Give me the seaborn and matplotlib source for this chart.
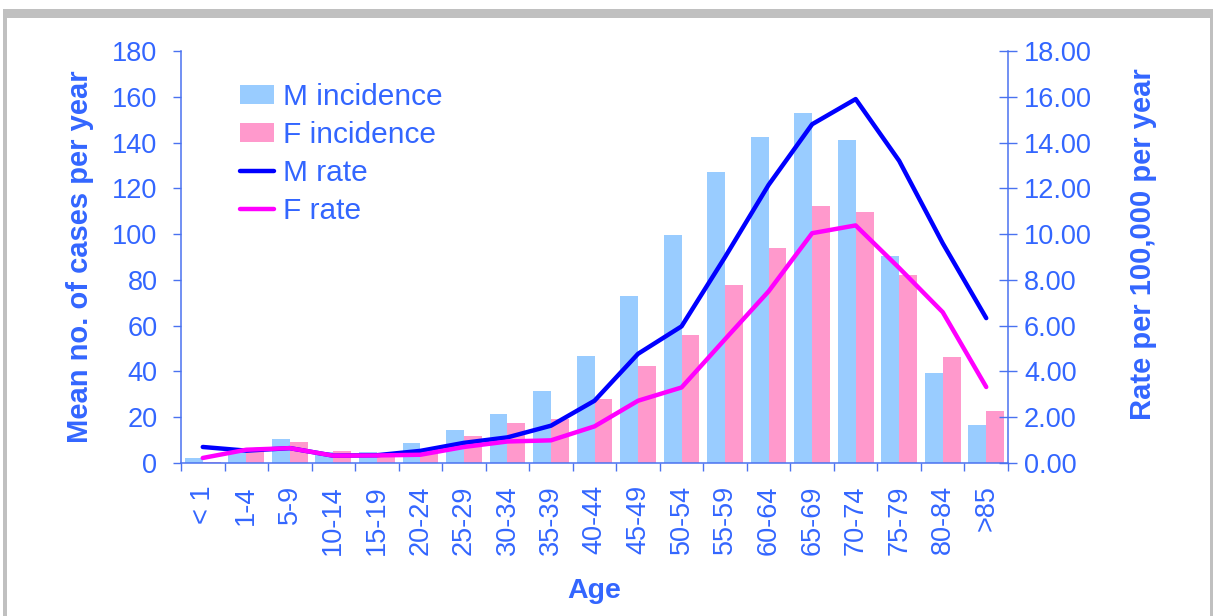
import numpy as np
import pandas as pd
import matplotlib
matplotlib.use("Agg")
import matplotlib.pyplot as plt
import seaborn as sns
from matplotlib.patches import Patch, Rectangle
from matplotlib.lines import Line2D
from matplotlib.ticker import FormatStrFormatter

age_groups = ["< 1", "1-4", "5-9", "10-14", "15-19", "20-24", "25-29", "30-34",
              "35-39", "40-44", "45-49", "50-54", "55-59", "60-64", "65-69",
              "70-74", "75-79", "80-84", ">85"]
m_incidence = [2, 5, 10.5, 5, 5, 8.7, 14.4, 21.4, 31.5, 46.7, 73, 99.6, 127,
               142.4, 153, 141, 90.4, 39.3, 16.6]
f_incidence = [0.5, 6, 9.2, 5.2, 4, 4, 11.8, 17.5, 19.2, 28, 42.4, 56, 77.8,
               94, 112.3, 109.7, 82, 46.3, 22.7]
m_rate = [0.70, 0.54, 0.65, 0.32, 0.34, 0.53, 0.88, 1.12, 1.63, 2.72, 4.77,
          5.97, 9.0, 12.15, 14.8, 15.9, 13.2, 9.6, 6.33]
f_rate = [0.22, 0.58, 0.65, 0.32, 0.33, 0.36, 0.70, 0.94, 0.99, 1.6, 2.72,
          3.30, 5.41, 7.5, 10.04, 10.38, 8.52, 6.59, 3.32]
series_names = ["M incidence", "F incidence", "M rate", "F rate"]

TXT = "#3366FF"
AX = "#4A72F0"
C_MB = "#99CCFF"
C_FB = "#FF99CC"
C_ML = "#0000FF"
C_FL = "#FF00FF"

sns.set_style("white")
plt.rcParams["font.family"] = ["Liberation Sans", "DejaVu Sans"]

W, H = 1213, 616
fig = plt.figure(figsize=(W / 100, H / 100), dpi=100)
fig.patch.set_facecolor("white")

# outer grey frame
fig.patches.append(Rectangle((3 / W, -0.1), (W - 3) / W, (H - 9) / H + 0.1,
                             transform=fig.transFigure, facecolor="#C0C0C0",
                             edgecolor="none", zorder=-2))
fig.patches.append(Rectangle((7 / W, -0.1), (1210 - 7) / W, (H - 18) / H + 0.1,
                             transform=fig.transFigure, facecolor="white",
                             edgecolor="none", zorder=-1))

L, R, B, T = 181, 1008, 463, 51
ax = fig.add_axes([L / W, 1 - B / H, (R - L) / W, (B - T) / H])
ax.set_facecolor("none")

df = pd.DataFrame({
    "age": age_groups * 2,
    "value": m_incidence + f_incidence,
    "series": [series_names[0]] * len(age_groups) + [series_names[1]] * len(age_groups),
})
sns.barplot(data=df, x="age", y="value", hue="series", order=age_groups,
            hue_order=series_names[:2], palette=[C_MB, C_FB], width=0.82,
            gap=0, saturation=1, legend=False, ax=ax, edgecolor="none",
            linewidth=0)

ax2 = ax.twinx()
xpos = np.arange(len(age_groups))
sns.lineplot(x=xpos, y=m_rate, ax=ax2, color=C_ML, lw=3.2, sort=False)
sns.lineplot(x=xpos, y=f_rate, ax=ax2, color=C_FL, lw=3.2, sort=False)

n = len(age_groups)
ax.set_xlim(-0.5, n - 0.5)
ax2.set_xlim(-0.5, n - 0.5)
ax.set_ylim(0, 180)
ax2.set_ylim(0, 18)
ax.set_yticks(np.arange(0, 181, 20))
ax2.set_yticks(np.arange(0, 18.1, 2))
ax2.yaxis.set_major_formatter(FormatStrFormatter("%.2f"))

# x ticks at category boundaries, labels at centers
ax.set_xticks(np.arange(-0.5, n, 1.0))
ax.set_xticklabels([])
ax.set_xticks(xpos, minor=True)
ax.set_xticklabels(age_groups, minor=True, rotation=90, fontsize=19.5,
                   color=TXT, va="top", ha="center")
ax.tick_params(axis="x", which="major", direction="out", length=6,
               width=1, color=AX, bottom=True)
ax.tick_params(axis="x", which="minor", length=0, pad=16)

ax.tick_params(axis="y", direction="out", length=6, width=1, color=AX,
               labelsize=19.5, labelcolor=TXT, pad=11, left=True)
ax2.tick_params(axis="y", direction="inout", length=13, width=1, color=AX,
                labelsize=19.5, labelcolor=TXT, pad=5, right=True)

for a in (ax, ax2):
    for s in a.spines.values():
        s.set_color(AX)
        s.set_linewidth(1.1)
    a.spines["top"].set_visible(False)
ax.spines["right"].set_visible(False)
ax2.spines["left"].set_visible(False)
ax2.spines["bottom"].set_visible(False)
ax.grid(False)
ax2.grid(False)

ax.set_ylabel("Mean no. of cases per year", fontsize=21, fontweight="bold",
              color=TXT)
ax.yaxis.set_label_coords((80 - L) / (R - L), 0.5)
ax2.set_ylabel("Rate per 100,000 per year", fontsize=21, fontweight="bold",
               color=TXT, rotation=90)
ax2.yaxis.set_label_coords((1143 - L) / (R - L), (B - 244) / (B - T))
ax2.yaxis.label.set_va("center")
ax.yaxis.label.set_va("center")
ax.set_xlabel("Age", fontsize=20.5, fontweight="bold", color=TXT)
ax.xaxis.set_label_coords(0.5, (B - 591) / (B - T))
ax.xaxis.label.set_va("center")

handles = [Patch(facecolor=C_MB, edgecolor="none"),
           Patch(facecolor=C_FB, edgecolor="none"),
           Line2D([], [], color=C_ML, lw=3.2),
           Line2D([], [], color=C_FL, lw=3.2)]
leg = ax2.legend(handles, series_names, loc="upper left",
                 bbox_to_anchor=((240 - L) / (R - L), (B - 83) / (B - T)),
                 frameon=False, fontsize=21.5, handlelength=1.15,
                 handleheight=0.62, handletextpad=0.3, labelspacing=0.34,
                 borderpad=0, borderaxespad=0)
for t in leg.get_texts():
    t.set_color(TXT)

fig.savefig("out.png", dpi=100)
